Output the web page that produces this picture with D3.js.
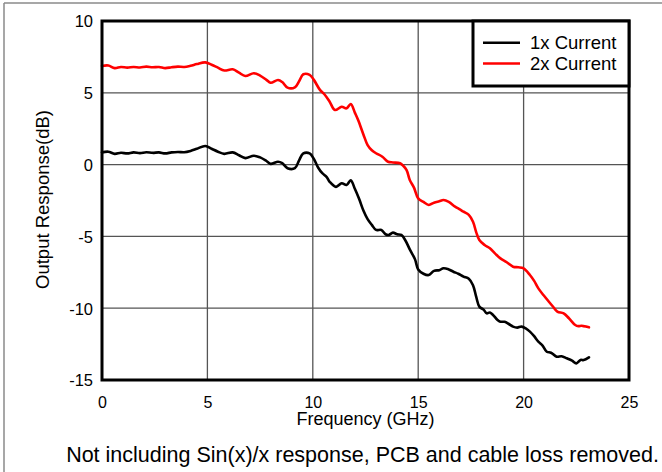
<!DOCTYPE html>
<html>
<head>
<meta charset="utf-8">
<script src="https://cdn.jsdelivr.net/npm/d3@7"></script>
<style>
  html, body { margin: 0; padding: 0; background: #fff; }
  svg { display: block; font-family: "Liberation Sans", Arial, sans-serif; }
</style>
</head>
<body>
<svg id="chart" width="662" height="472"></svg>
<script>
// ---- Data ----
const seriesNames = ["1x Current", "2x Current"];
const seriesColors = ["#000000", "#ff0000"];

const freq1 = [0.0,0.3,0.6,0.9,1.2,1.5,1.8,2.1,2.4,2.7,3.0,3.3,3.6,3.9,4.2,4.5,4.9,5.2,5.5,5.8,6.2,6.5,6.8,7.2,7.5,7.8,8.0,8.35,8.55,8.8,9.15,9.35,9.55,9.85,10.05,10.25,10.45,10.65,10.8,11.1,11.37,11.6,11.8,12.0,12.2,12.4,12.6,12.8,13.0,13.25,13.45,13.6,13.8,14.0,14.2,14.4,14.6,14.85,15.0,15.25,15.5,15.75,16.0,16.2,16.45,16.67,16.9,17.15,17.4,17.6,17.75,17.9,18.1,18.25,18.4,18.55,18.75,18.9,19.1,19.3,19.5,19.7,19.9,20.1,20.3,20.5,20.7,20.9,21.1,21.3,21.57,21.8,22.05,22.3,22.5,22.7,22.85,23.1];
const resp1 = [0.85,0.9,0.75,0.82,0.78,0.85,0.8,0.86,0.82,0.85,0.78,0.85,0.88,0.86,0.95,1.1,1.3,1.1,0.9,0.75,0.85,0.65,0.45,0.62,0.5,0.25,0.05,0.2,0.1,-0.25,-0.25,0.3,0.78,0.78,0.4,-0.2,-0.6,-0.85,-1.2,-1.55,-1.3,-1.42,-1.1,-1.7,-2.4,-3.2,-3.8,-4.2,-4.55,-4.55,-4.85,-4.9,-4.74,-4.85,-4.9,-5.3,-5.9,-6.6,-7.3,-7.6,-7.69,-7.4,-7.35,-7.22,-7.3,-7.46,-7.6,-7.8,-7.95,-8.4,-9.2,-9.89,-10.1,-10.36,-10.3,-10.47,-10.8,-10.94,-10.95,-11.1,-11.28,-11.35,-11.28,-11.4,-11.63,-11.95,-12.33,-12.6,-13.03,-13.1,-13.38,-13.35,-13.49,-13.65,-13.84,-13.6,-13.61,-13.42];

const freq2 = [0.0,0.3,0.6,0.9,1.2,1.5,1.8,2.1,2.4,2.7,3.0,3.3,3.6,3.9,4.2,4.5,4.9,5.2,5.5,5.8,6.2,6.5,6.8,7.2,7.5,7.8,8.0,8.35,8.55,8.8,9.15,9.35,9.55,9.85,10.05,10.34,10.55,10.8,11.05,11.37,11.6,11.8,12.0,12.15,12.4,12.6,12.8,13.0,13.3,13.57,13.8,14.14,14.3,14.45,14.6,14.8,15.0,15.25,15.5,15.75,16.0,16.2,16.45,16.75,16.95,17.15,17.4,17.6,17.75,17.9,18.15,18.4,18.65,18.9,19.2,19.5,19.75,20.0,20.3,20.5,20.7,20.95,21.2,21.4,21.6,21.9,22.15,22.45,22.6,22.75,23.1];
const resp2 = [6.87,6.9,6.72,6.8,6.75,6.8,6.76,6.82,6.78,6.8,6.72,6.78,6.82,6.8,6.88,7.0,7.12,6.95,6.75,6.55,6.64,6.4,6.17,6.36,6.2,5.9,5.7,5.89,5.75,5.36,5.38,5.8,6.29,6.25,5.9,5.2,4.9,4.38,3.8,4.03,3.92,4.22,3.6,3.1,2.1,1.36,1.0,0.79,0.55,0.2,0.15,0.09,-0.1,-0.38,-1.07,-1.6,-2.35,-2.6,-2.81,-2.65,-2.55,-2.47,-2.6,-2.93,-3.1,-3.28,-3.5,-3.98,-4.7,-5.25,-5.6,-5.83,-6.2,-6.53,-6.8,-7.11,-7.15,-7.22,-7.69,-8.1,-8.62,-9.1,-9.55,-9.9,-10.24,-10.36,-10.7,-11.17,-11.25,-11.22,-11.33];

const xTicks = [0, 5, 10, 15, 20, 25];
const yTicks = [10, 5, 0, -5, -10, -15];
const xLabel = "Frequency (GHz)";
const yLabel = "Output Response(dB)";
const footer = "Not including Sin(x)/x response, PCB and cable loss removed.";

// ---- Layout ----
const svg = d3.select("#chart");
const L = 102, R = 629, T = 21, B = 380;

const x = d3.scaleLinear().domain([0, 25]).range([L, R]);
const y = d3.scaleLinear().domain([-15, 10]).range([B, T]);
const fmt = d => String(d);  // plain hyphen-minus as in the reference

// outer border (left/top visible)
svg.append("line").attr("x1", 4).attr("x2", 4).attr("y1", 3).attr("y2", 472)
  .attr("stroke", "#8a8a8a").attr("stroke-width", 1.5);
svg.append("line").attr("x1", 4).attr("x2", 662).attr("y1", 3).attr("y2", 3)
  .attr("stroke", "#8a8a8a").attr("stroke-width", 1.5);

// grid
const grid = svg.append("g");
grid.selectAll(".gx").data(xTicks.slice(1, -1)).join("line")
  .attr("x1", d => x(d)).attr("x2", d => x(d)).attr("y1", T).attr("y2", B)
  .attr("stroke", "#555").attr("stroke-width", 1.3);
grid.selectAll(".gy").data(yTicks.slice(1, -1)).join("line")
  .attr("x1", L).attr("x2", R).attr("y1", d => y(d)).attr("y2", d => y(d))
  .attr("stroke", "#555").attr("stroke-width", 1.3);

// axes tick labels via d3 axes
const xAxis = d3.axisBottom(x).tickValues(xTicks).tickSize(0).tickPadding(0).tickFormat(fmt);
const gx = svg.append("g").attr("transform", `translate(0,${B})`).call(xAxis);
gx.select(".domain").remove();
gx.selectAll("text").attr("dy", null).attr("y", 27.5).attr("font-size", 16)
  .attr("font-family", "Liberation Sans, Arial, sans-serif").attr("fill", "#000");

const yAxis = d3.axisLeft(y).tickValues(yTicks).tickSize(0).tickPadding(0).tickFormat(fmt);
const gy = svg.append("g").attr("transform", `translate(${L},0)`).call(yAxis);
gy.select(".domain").remove();
gy.selectAll("text").attr("x", -9).attr("dy", "0.36em").attr("font-size", 16.5)
  .attr("font-family", "Liberation Sans, Arial, sans-serif").attr("fill", "#000");

// series lines
const line = d3.line().curve(d3.curveCatmullRom.alpha(0.5)).x(d => x(d[0])).y(d => y(d[1]));
const series = [
  { name: seriesNames[0], color: seriesColors[0], pts: freq1.map((f, i) => [f, resp1[i]]) },
  { name: seriesNames[1], color: seriesColors[1], pts: freq2.map((f, i) => [f, resp2[i]]) }
];
svg.append("g").selectAll("path").data(series).join("path")
  .attr("d", d => line(d.pts)).attr("fill", "none")
  .attr("stroke", d => d.color).attr("stroke-width", 2.6)
  .attr("stroke-linejoin", "round").attr("stroke-linecap", "round");

// frame
svg.append("rect").attr("x", L).attr("y", T).attr("width", R - L).attr("height", B - T)
  .attr("fill", "none").attr("stroke", "#000").attr("stroke-width", 3);

// legend
const lg = svg.append("g");
lg.append("rect").attr("x", 473).attr("y", T).attr("width", R - 473).attr("height", 65)
  .attr("fill", "#fff").attr("stroke", "#000").attr("stroke-width", 3);
series.forEach((s, i) => {
  const yy = 42.7 + i * 20.8;
  lg.append("line").attr("x1", 483).attr("x2", 520).attr("y1", yy).attr("y2", yy)
    .attr("stroke", s.color).attr("stroke-width", 2.6);
  lg.append("text").attr("x", 530).attr("y", yy + 6.5).attr("font-size", 18.5)
    .attr("fill", "#000").text(s.name);
});

// axis titles
svg.append("text").attr("x", (L + R) / 2).attr("y", 425).attr("text-anchor", "middle")
  .attr("font-size", 18).attr("fill", "#000").text(xLabel);
svg.append("text").attr("transform", `translate(49,${(T + B) / 2 - 1}) rotate(-90)`)
  .attr("text-anchor", "middle").attr("font-size", 18.5).attr("fill", "#000").text(yLabel);

// footer
svg.append("text").attr("x", 362.5).attr("y", 462).attr("text-anchor", "middle")
  .attr("font-size", 21.5).attr("fill", "#000").text(footer);
</script>
</body>
</html>
